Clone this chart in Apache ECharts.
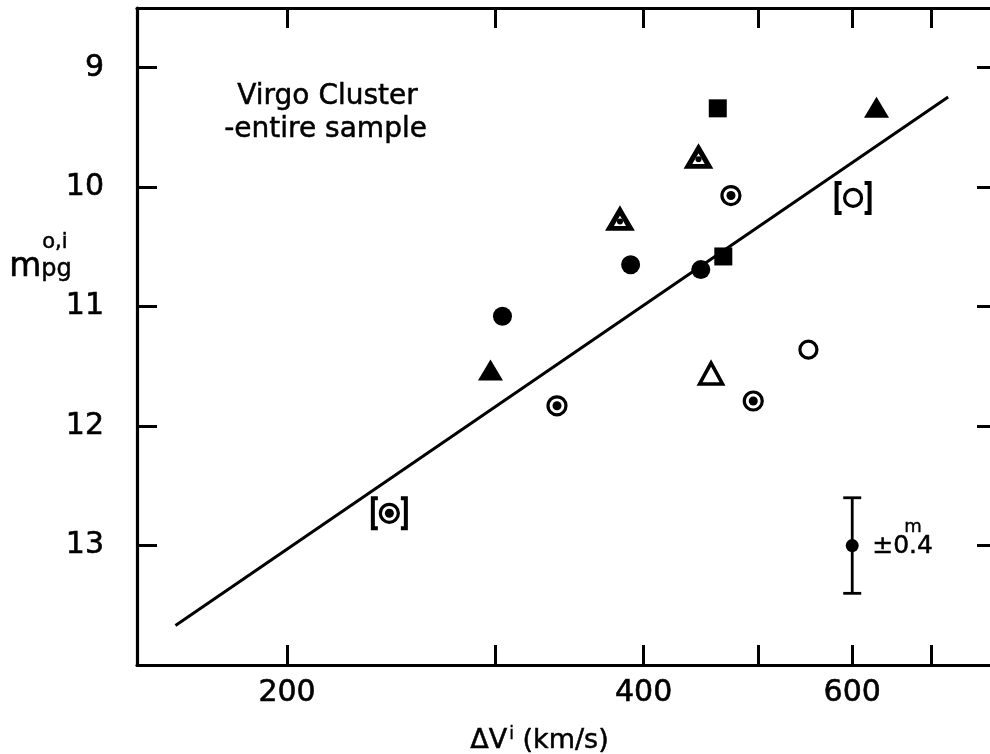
<!DOCTYPE html>
<html>
<head>
<meta charset="utf-8">
<script src="https://cdn.jsdelivr.net/npm/echarts@6/dist/echarts.min.js"></script>
<style>html,body{margin:0;padding:0;background:#fff}#c{width:990px;height:754px}</style>
</head>
<body>
<div id="c"></div>
<script>
// ---- data (ΔV^i in km/s, m_pg^{o,i} in mag) ----
const xTickValues = [200, 300, 400, 500, 600, 700];
const xLabelValues = [200, 400, 600];
const yTickValues = [9, 10, 11, 12, 13];

const filledCircleX = [390, 447, 304];
const filledCircleY = [10.65, 10.69, 11.08];
const filledSquareX = [462, 467];
const filledSquareY = [9.34, 10.58];
const filledTriangleX = [629, 297];
const filledTriangleY = [9.33, 11.53];
const dotTriangleX = [445, 382];
const dotTriangleY = [9.75, 10.27];
const openTriangleX = [456];
const openTriangleY = [11.56];
const openCircleX = [551, 601];
const openCircleY = [11.36, 10.09];
const bullseyeX = [474, 338, 495, 244];
const bullseyeY = [10.07, 11.83, 11.79, 12.73];
const bracketX = [601, 244];
const bracketY = [10.09, 12.73];
const fitLineX = [161, 723];
const fitLineY = [13.67, 9.245];
const errorBarX = [600];
const errorBarY = [13];
const errorBarSize = [0.4];

// ---- build ----
const L = v => Math.log10(v);
const pts = (xs, ys) => xs.map((x, i) => [L(x), ys[i]]);
const FONT = 'DejaVu Sans';
const BLACK = '#000';
const txt = (size) => ({fontSize: size, fontFamily: FONT, color: BLACK, textBorderColor: BLACK, textBorderWidth: 0.6});

const chart = echarts.init(document.getElementById('c'), null, {renderer: 'canvas'});

const xBase = {
  type: 'value', min: L(149.4), max: L(795),
  axisLine: {show: true, onZero: false, lineStyle: {color: BLACK, width: 3.2}},
  axisTick: {show: true, inside: true, length: 20, lineStyle: {color: BLACK, width: 3}, customValues: xTickValues.map(L)},
  splitLine: {show: false}
};
const yBase = {
  type: 'value', inverse: true, min: 8.5, max: 14,
  axisLine: {show: true, onZero: false, lineStyle: {color: BLACK, width: 3.2}},
  axisTick: {show: true, inside: true, length: 20, lineStyle: {color: BLACK, width: 3}, customValues: yTickValues},
  splitLine: {show: false}
};

const bracketPath = 'path://M0,0 L7,0 L7,4 L4,4 L4,30 L7,30 L7,34 L0,34 Z M37,0 L30,0 L30,4 L33,4 L33,30 L30,30 L30,34 L37,34 Z';
const solid = {color: BLACK, opacity: 1};
const hollow = (w) => ({color: '#fff', borderColor: BLACK, borderWidth: w, opacity: 1});
const gtext = (text, size, lw) => ({text: text, font: size + 'px "DejaVu Sans"', fill: BLACK, stroke: BLACK, lineWidth: lw});

const option = {
  animation: false,
  backgroundColor: '#fff',
  grid: {left: 137, top: 8, width: 860, height: 657, containLabel: false, outerBoundsMode: 'none'},
  xAxis: [
    Object.assign({}, xBase, {position: 'bottom',
      axisLabel: Object.assign({show: true, customValues: xLabelValues.map(L),
        formatter: v => String(Math.round(Math.pow(10, v))), margin: 13}, txt(30))}),
    Object.assign({}, xBase, {position: 'top', axisLabel: {show: false}})
  ],
  yAxis: [
    Object.assign({}, yBase, {position: 'left',
      axisLabel: Object.assign({show: true, customValues: yTickValues, margin: 33}, txt(30))}),
    Object.assign({}, yBase, {position: 'right', axisLabel: {show: false}})
  ],
  graphic: [
    {type: 'text', left: 237, top: 82, style: gtext('Virgo Cluster', 28, 0.5)},
    {type: 'text', left: 224, top: 115, style: gtext('-entire sample', 28, 0.5)},
    {type: 'text', left: 9, top: 251, style: gtext('m', 33, 0.6)},
    {type: 'text', left: 42, top: 232, style: gtext('o,i', 21, 0.5)},
    {type: 'text', left: 41, top: 258, style: gtext('pg', 24, 0.5)},
    {type: 'text', left: 470, top: 726, style: {
      text: '{a|ΔV}{s|i}{a| (km/s)}',
      rich: {a: {fontSize: 27, fontFamily: FONT, fill: BLACK, stroke: BLACK, lineWidth: 0.5, lineHeight: 30},
             s: {fontSize: 17, fontFamily: FONT, fill: BLACK, stroke: BLACK, lineWidth: 0.4, verticalAlign: 'top', lineHeight: 18, padding: [0, 0, 0, 2]}}}}
  ],
  series: [
    {type: 'line', data: pts(fitLineX, fitLineY), symbol: 'none', silent: true, z: 1,
      lineStyle: {color: BLACK, width: 3}},
    {type: 'scatter', data: pts(bracketX, bracketY), symbol: bracketPath, symbolSize: [37, 34],
      itemStyle: solid, z: 3},
    {type: 'scatter', data: pts(filledCircleX, filledCircleY), symbol: 'circle', symbolSize: 19,
      itemStyle: solid, z: 3},
    {type: 'scatter', data: pts(filledSquareX, filledSquareY), symbol: 'rect', symbolSize: 18,
      itemStyle: solid, z: 3},
    {type: 'scatter', data: pts(filledTriangleX, filledTriangleY), symbol: 'triangle', symbolSize: [25, 21],
      itemStyle: solid, z: 3},
    {type: 'scatter', data: pts(openTriangleX, openTriangleY), symbol: 'triangle', symbolSize: [23, 21],
      itemStyle: hollow(3.5), z: 3},
    {type: 'scatter', data: pts(dotTriangleX, dotTriangleY), symbol: 'triangle', symbolSize: [21, 18],
      itemStyle: hollow(5), z: 3},
    {type: 'scatter', data: pts(dotTriangleX, dotTriangleY), symbol: 'circle', symbolSize: 6, symbolOffset: [0, 2],
      itemStyle: solid, z: 4},
    {type: 'scatter', data: pts(openCircleX, openCircleY), symbol: 'circle', symbolSize: 17,
      itemStyle: hollow(3.2), z: 3},
    {type: 'scatter', data: pts(bullseyeX, bullseyeY), symbol: 'circle', symbolSize: 18,
      itemStyle: hollow(3.2), z: 3},
    {type: 'scatter', data: pts(bullseyeX, bullseyeY), symbol: 'circle', symbolSize: 9,
      itemStyle: solid, z: 4},
    {type: 'custom', z: 3,
      data: errorBarX.map((x, i) => [L(x), errorBarY[i], errorBarSize[i]]),
      renderItem: (params, api) => {
        const x = api.value(0), y = api.value(1), e = api.value(2);
        const c = api.coord([x, y]);
        const t = api.coord([x, y - e]);
        const b = api.coord([x, y + e]);
        const cap = 9;
        const ls = {stroke: BLACK, lineWidth: 2.8};
        return {type: 'group', children: [
          {type: 'line', shape: {x1: c[0], y1: t[1], x2: c[0], y2: b[1]}, style: ls},
          {type: 'line', shape: {x1: c[0] - cap, y1: t[1], x2: c[0] + cap, y2: t[1]}, style: ls},
          {type: 'line', shape: {x1: c[0] - cap, y1: b[1], x2: c[0] + cap, y2: b[1]}, style: ls},
          {type: 'circle', shape: {cx: c[0], cy: c[1], r: 6.5}, style: {fill: BLACK}},
          {type: 'text', style: Object.assign({x: c[0] + 20, y: c[1] + 1, verticalAlign: 'middle'}, gtext('±0.4', 25, 0.5))},
          {type: 'text', style: Object.assign({x: c[0] + 52, y: c[1] - 9, verticalAlign: 'bottom'}, gtext('m', 18, 0.4))}
        ]};
      }}
  ]
};
chart.setOption(option);
</script>
</body>
</html>
